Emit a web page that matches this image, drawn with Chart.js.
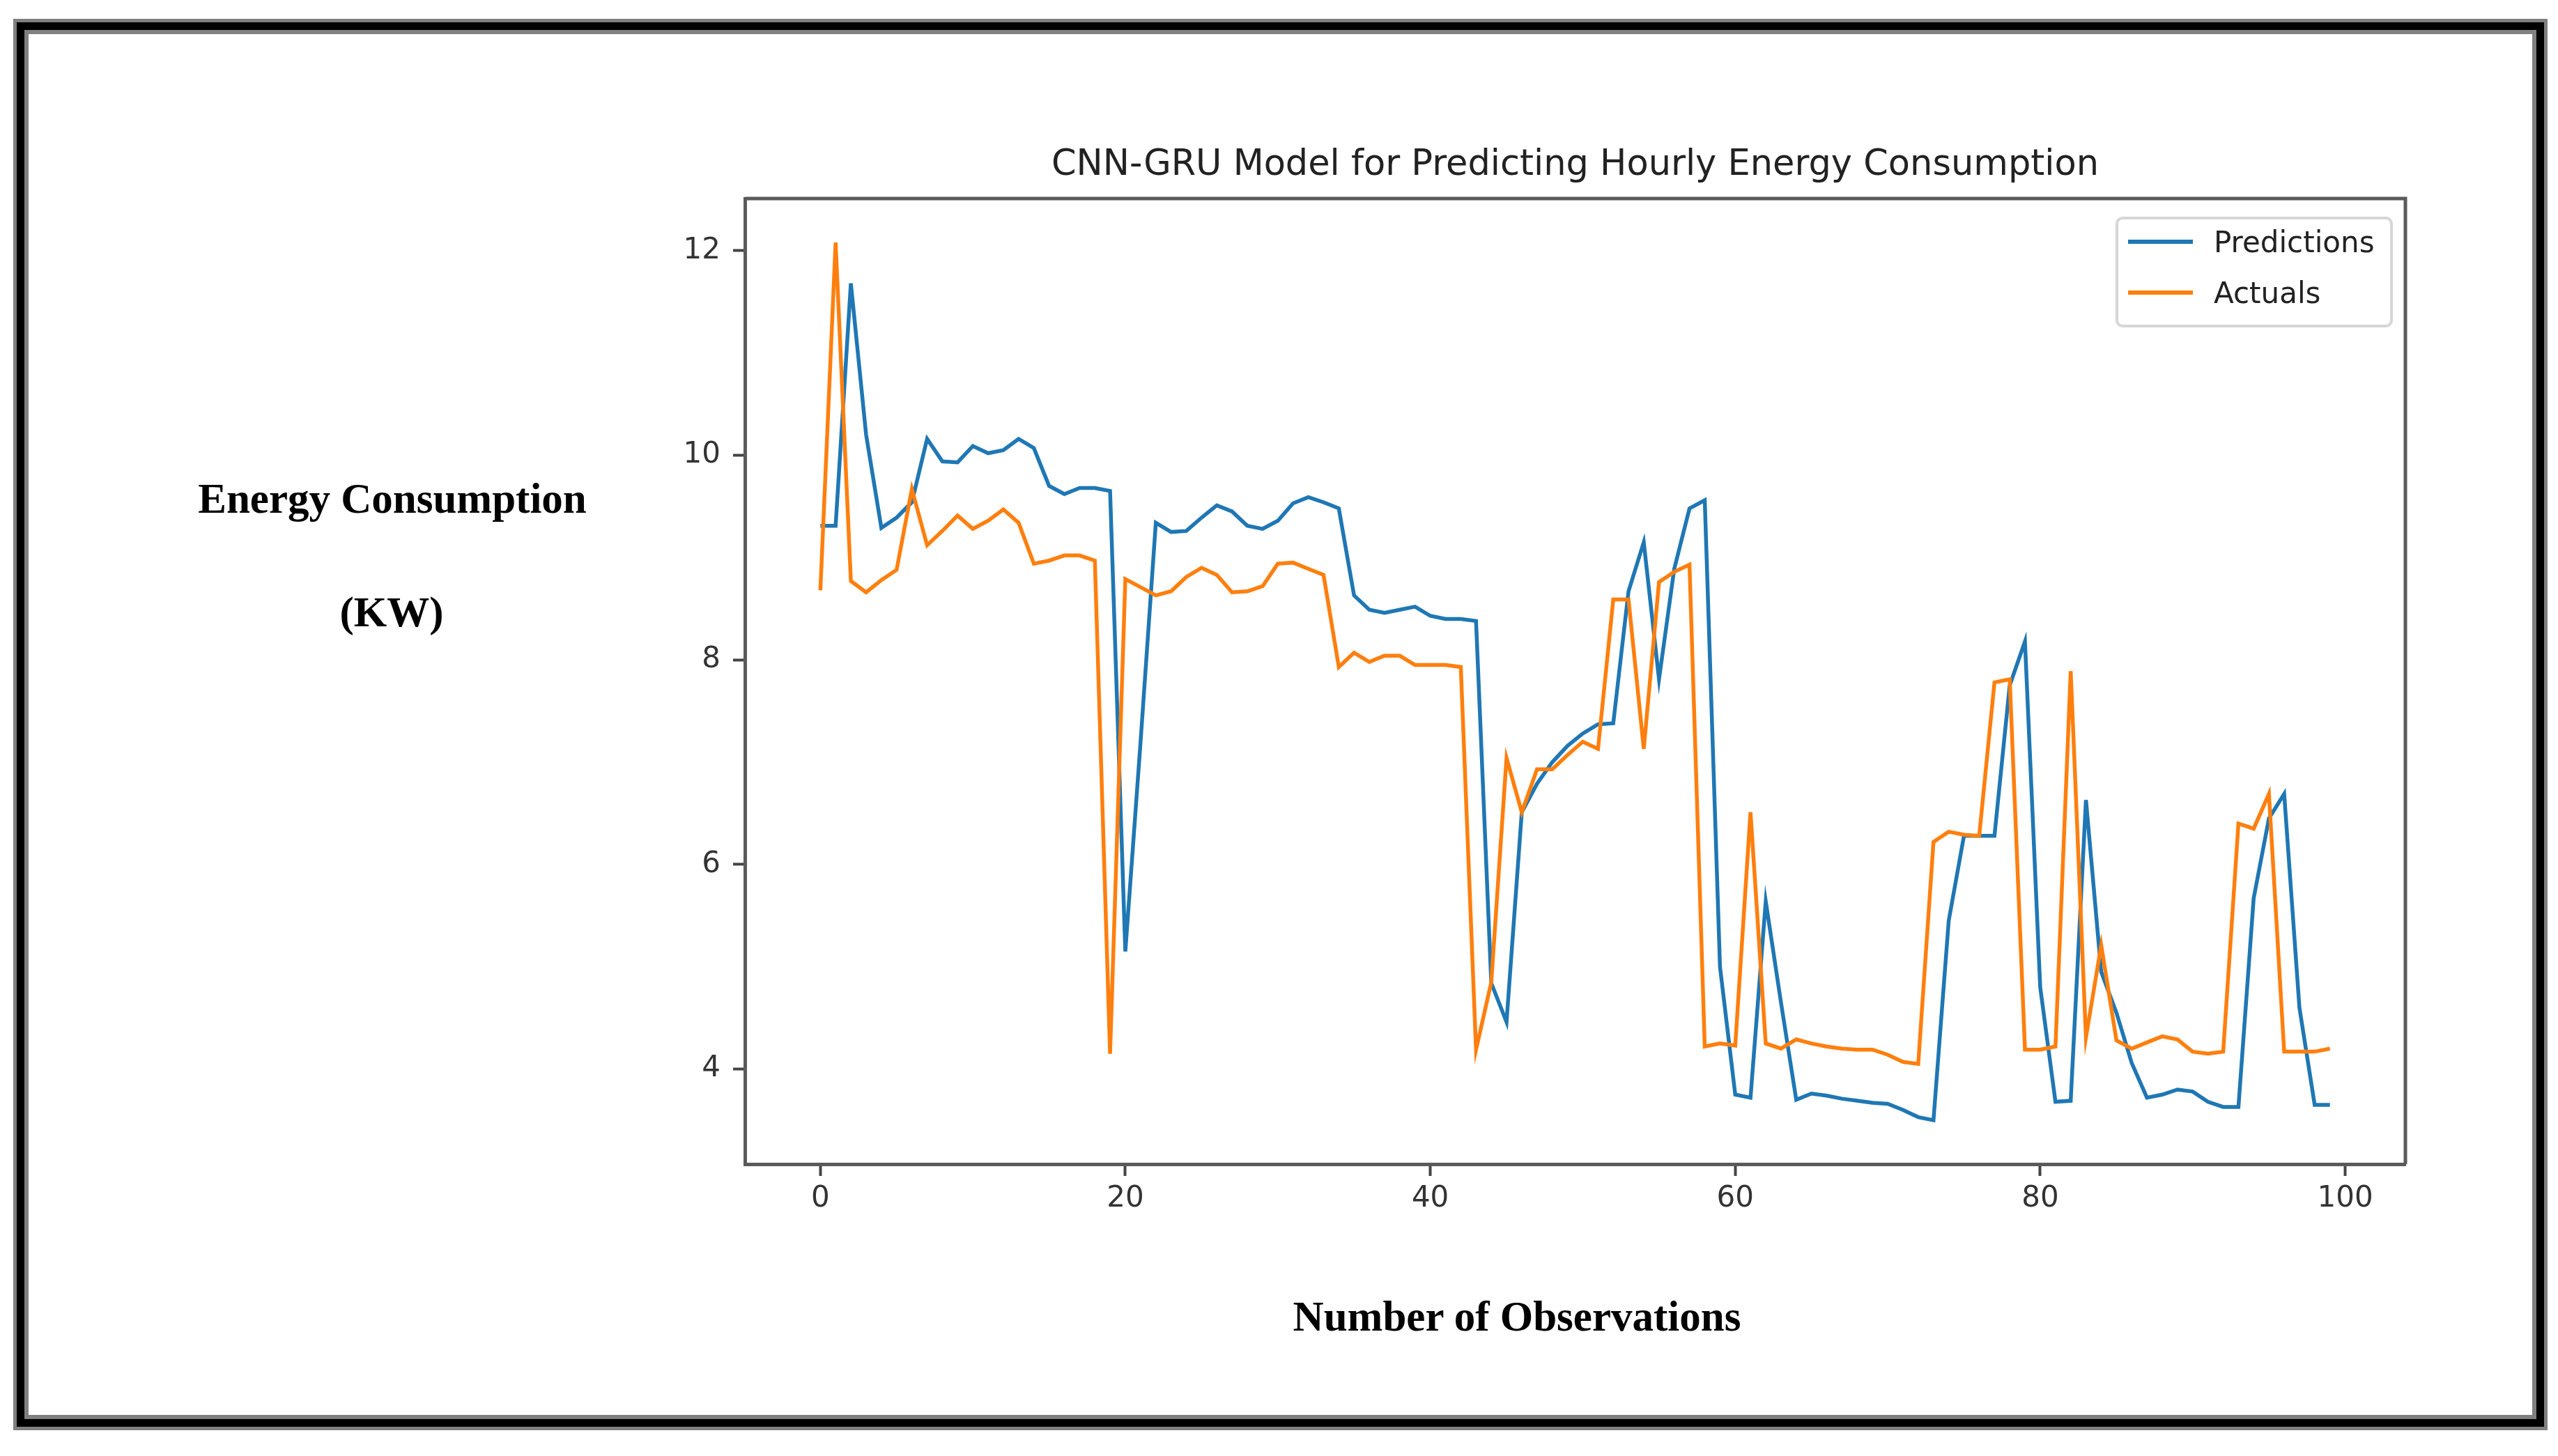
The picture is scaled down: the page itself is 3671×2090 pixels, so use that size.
<!DOCTYPE html>
<html>
<head>
<meta charset="utf-8">
<script src="https://cdn.jsdelivr.net/npm/chart.js@4.4.1/dist/chart.umd.min.js"></script>
<style>
  html, body { margin: 0; padding: 0; background: #fff; }
  #wrap { position: relative; width: 3671px; height: 2090px; overflow: hidden; }
  #chart { position: absolute; left: 0; top: 0; }
  #frame {
    position: absolute; left: 24px; top: 32px; width: 3627px; height: 2016px;
    box-sizing: border-box; border: 11px solid #000; outline: 5px solid #808080;
    box-shadow: inset 0 0 0 6px #808080; pointer-events: none;
  }
  .axis-title {
    position: absolute; transform: translate(-50%, -50%); white-space: nowrap;
    font-family: "Liberation Serif", "Times New Roman", serif; font-weight: bold;
    font-size: 61px; line-height: 1; color: #000;
  }
</style>
</head>
<body>
<div id="wrap">
  <canvas id="chart" width="3671" height="2090"></canvas>
  <div id="frame"></div>
  <div class="axis-title" style="left:563px; top:715px;">Energy Consumption</div>
  <div class="axis-title" style="left:562px; top:878px;">(KW)</div>
  <div class="axis-title" style="left:2177px; top:1889px;">Number of Observations</div>
</div>
<script>
const predictions = [
  9.31, 9.31, 11.68, 10.2, 9.29, 9.39, 9.54, 10.16, 9.94, 9.93,
  10.09, 10.02, 10.05, 10.16, 10.07, 9.70, 9.62, 9.68, 9.68, 9.65,
  5.15, 7.2, 9.34, 9.25, 9.26, 9.39, 9.51, 9.45, 9.31, 9.28,
  9.36, 9.53, 9.59, 9.54, 9.48, 8.63, 8.49, 8.46, 8.49, 8.52,
  8.43, 8.40, 8.40, 8.38, 4.84, 4.46, 6.51, 6.79, 7.00, 7.16,
  7.28, 7.37, 7.38, 8.67, 9.15, 7.81, 8.89, 9.48, 9.56, 5.0,
  3.75, 3.72, 5.64, 4.65, 3.70, 3.76, 3.74, 3.71, 3.69, 3.67,
  3.66, 3.60, 3.53, 3.50, 5.45, 6.28, 6.28, 6.28, 7.75, 8.18,
  4.8, 3.68, 3.69, 6.63, 4.95, 4.55, 4.06, 3.72, 3.75, 3.80,
  3.78, 3.68, 3.63, 3.63, 5.67, 6.45, 6.69, 4.6, 3.65, 3.65
];
const actuals = [
  8.68, 12.08, 8.77, 8.66, 8.78, 8.88, 9.67, 9.12, 9.26, 9.41,
  9.28, 9.36, 9.47, 9.34, 8.94, 8.97, 9.02, 9.02, 8.97, 4.15,
  8.79, 8.71, 8.63, 8.67, 8.81, 8.90, 8.83, 8.66, 8.67, 8.72,
  8.94, 8.95, 8.89, 8.83, 7.93, 8.07, 7.98, 8.04, 8.04, 7.95,
  7.95, 7.95, 7.93, 4.19, 4.85, 7.04, 6.51, 6.93, 6.93, 7.07,
  7.20, 7.13, 8.59, 8.59, 7.13, 8.76, 8.86, 8.93, 4.22, 4.25,
  4.23, 6.51, 4.25, 4.20, 4.29, 4.25, 4.22, 4.20, 4.19, 4.19,
  4.14, 4.07, 4.05, 6.22, 6.32, 6.29, 6.28, 7.78, 7.81, 4.19,
  4.19, 4.22, 7.89, 4.31, 5.21, 4.28, 4.20, 4.26, 4.32, 4.29,
  4.17, 4.15, 4.17, 6.40, 6.35, 6.69, 4.17, 4.17, 4.17, 4.20
];
const seriesNames = ["Predictions", "Actuals"];
const xTickValues = [0, 20, 40, 60, 80, 100];
const yTickValues = [4, 6, 8, 10, 12];

// matplotlib-style 5% margins around the data
const n = predictions.length;
const xPad = 0.05 * (n - 1);
const allVals = predictions.concat(actuals);
const yLo = Math.min(...allVals), yHi = Math.max(...allVals);
const yPad = 0.05 * (yHi - yLo);

const tickFont = { family: "DejaVu Sans", size: 42 };

const frameBox = {
  id: "frameBox",
  afterDatasetsDraw(chart) {
    const { ctx, chartArea: a } = chart;
    ctx.save();
    ctx.strokeStyle = "#5a5a5a";
    ctx.lineWidth = 5;
    ctx.beginPath();
    ctx.moveTo(a.left, a.top);
    ctx.lineTo(a.right, a.top);
    ctx.lineTo(a.right, a.bottom);
    ctx.stroke();
    ctx.restore();
  }
};

const boxLegend = {
  id: "boxLegend",
  afterDraw(chart) {
    const { ctx, chartArea: a } = chart;
    const w = 394, h = 155;
    const x = a.right - 20 - w, y = a.top + 28;
    ctx.save();
    ctx.fillStyle = "rgba(255,255,255,0.85)";
    ctx.strokeStyle = "#d6d6d6";
    ctx.lineWidth = 4;
    ctx.beginPath();
    ctx.roundRect(x, y, w, h, 8);
    ctx.fill();
    ctx.stroke();
    ctx.font = "42px 'DejaVu Sans'";
    ctx.textBaseline = "middle";
    chart.data.datasets.forEach((ds, i) => {
      const ly = y + 34 + i * 73;
      ctx.strokeStyle = ds.borderColor;
      ctx.lineWidth = 6;
      ctx.beginPath();
      ctx.moveTo(x + 16, ly);
      ctx.lineTo(x + 109, ly);
      ctx.stroke();
      ctx.fillStyle = "#222";
      ctx.fillText(ds.label, x + 139, ly + 4);
    });
    ctx.restore();
  }
};

new Chart(document.getElementById("chart"), {
  type: "line",
  data: {
    datasets: [
      {
        label: seriesNames[0],
        data: predictions.map((v, i) => ({ x: i, y: v })),
        borderColor: "#1f77b4",
        borderWidth: 5.5,
        pointRadius: 0,
        tension: 0,
        order: 1
      },
      {
        label: seriesNames[1],
        data: actuals.map((v, i) => ({ x: i, y: v })),
        borderColor: "#ff7f0e",
        borderWidth: 5.5,
        pointRadius: 0,
        tension: 0,
        order: 0
      }
    ]
  },
  options: {
    responsive: false,
    animation: false,
    devicePixelRatio: 1,
    layout: { padding: { left: 949, right: 219, top: 0, bottom: 0 } },
    plugins: {
      legend: { display: false },
      tooltip: { enabled: false },
      title: {
        display: true,
        fullSize: false,
        text: "CNN-GRU Model for Predicting Hourly Energy Consumption",
        color: "#222",
        font: { family: "DejaVu Sans", size: 51, weight: "normal" },
        padding: { top: 207, bottom: 16.8 }
      }
    },
    scales: {
      x: {
        type: "linear",
        min: -xPad,
        max: n - 1 + xPad,
        afterBuildTicks: s => { s.ticks = xTickValues.map(v => ({ value: v })); },
        afterFit: s => { s.height = 419; },
        ticks: { font: tickFont, color: "#333", padding: 8, maxRotation: 0, autoSkip: false },
        grid: { drawOnChartArea: false, tickLength: 17, tickWidth: 4, tickColor: "#444" },
        border: { color: "#5a5a5a", width: 5 }
      },
      y: {
        min: yLo - yPad,
        max: yHi + yPad,
        afterBuildTicks: s => { s.ticks = yTickValues.map(v => ({ value: v })); },
        afterFit: s => { s.width = 120; },
        ticks: { font: tickFont, color: "#333", padding: 18 },
        grid: { drawOnChartArea: false, tickLength: 17, tickWidth: 4, tickColor: "#444" },
        border: { color: "#5a5a5a", width: 5 }
      }
    }
  },
  plugins: [frameBox, boxLegend]
});
</script>
</body>
</html>
